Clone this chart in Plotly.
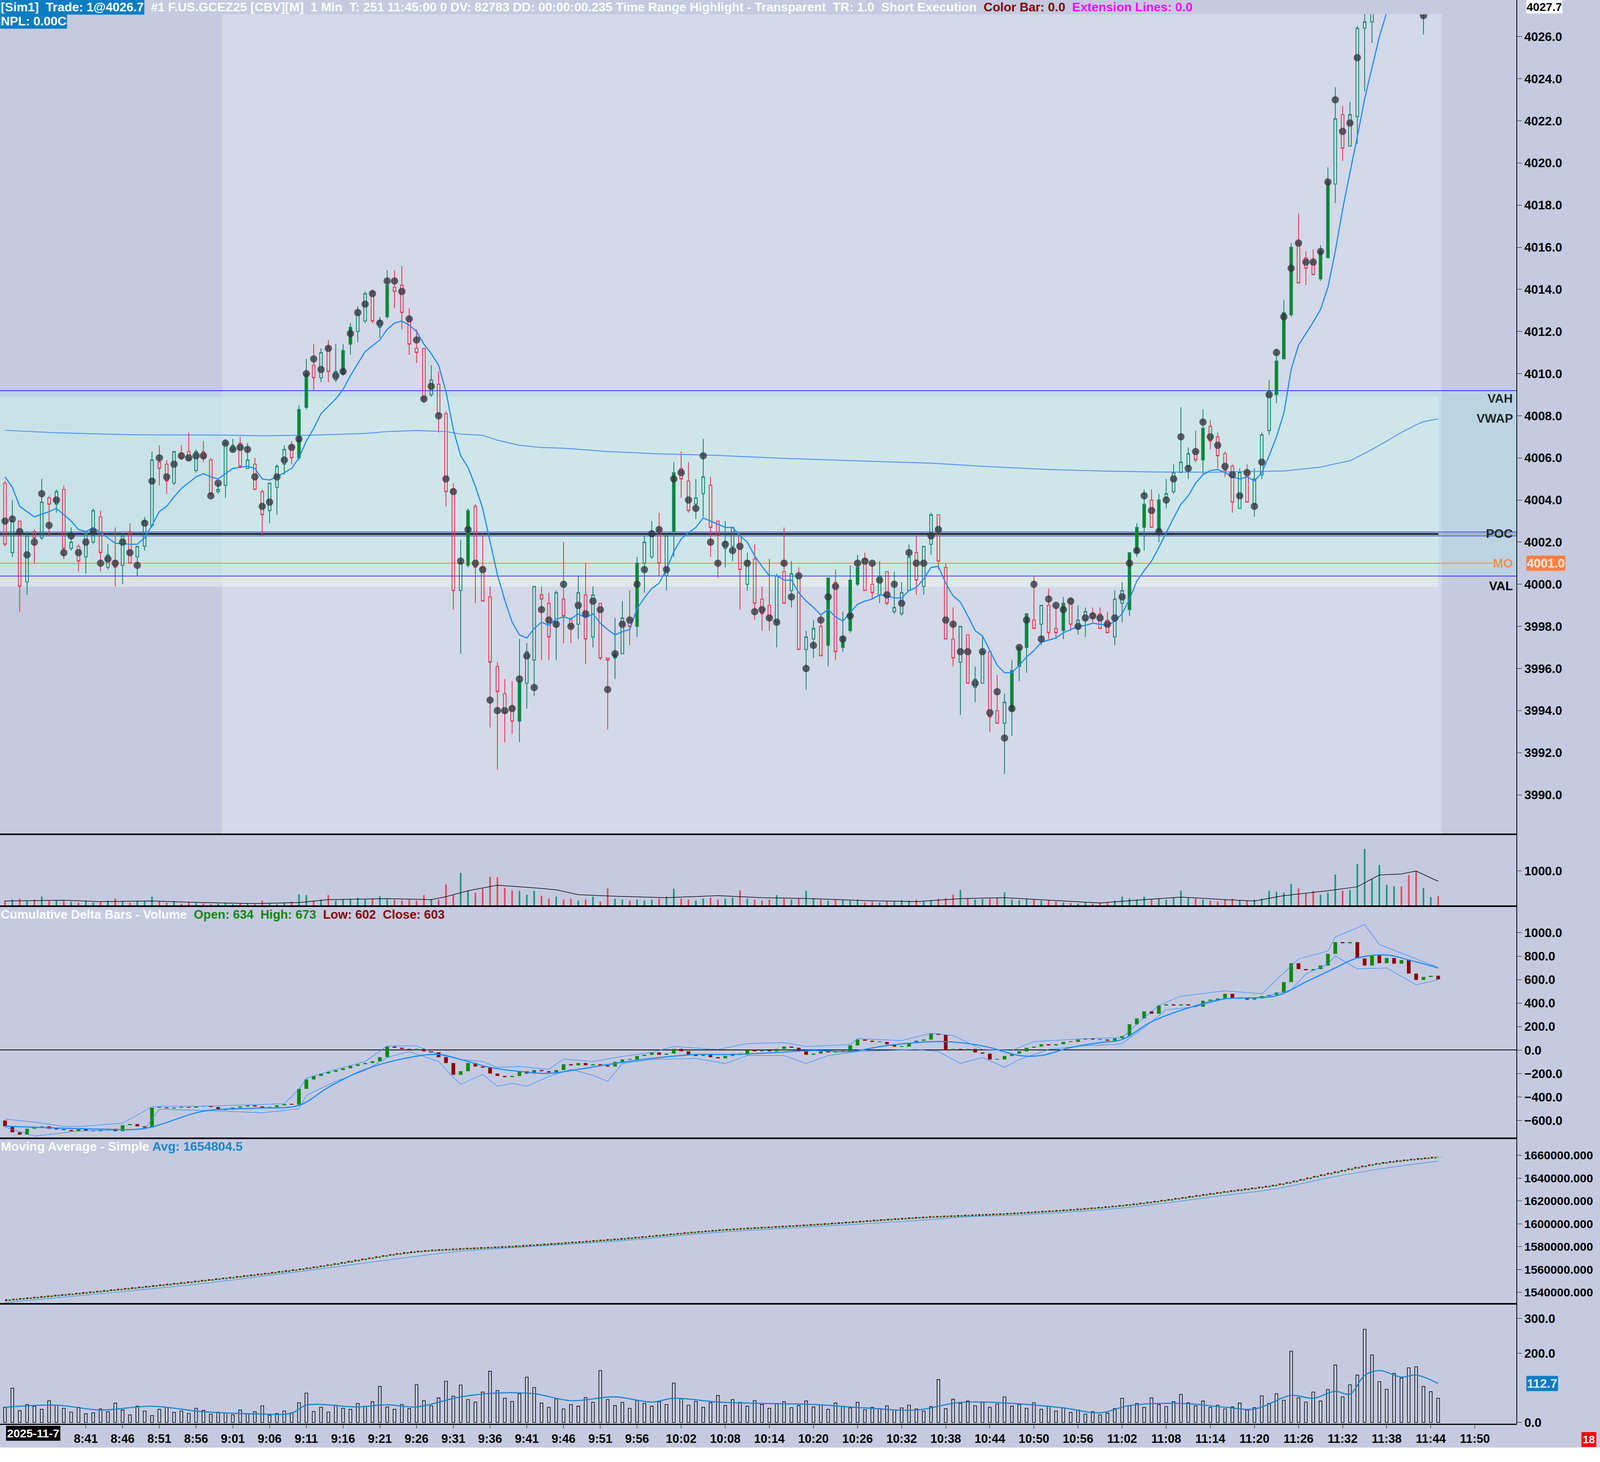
import plotly.graph_objects as go
from plotly.subplots import make_subplots

# 1 min bars from 8:30 to 11:45, x = bar index (0 = 8:30)
opens = [
    4004.8, 4001.5, 4003.0, 4000.1, 4002.5, 4002.2, 4004.1, 4003.8, 4004.5, 4001.7,
    4001.8, 4001.3, 4002.0, 4003.2, 4000.8, 4001.1, 4000.9, 4002.5, 4001.3, 4001.8,
    4002.8, 4005.8, 4005.7, 4004.8, 4006.2, 4006.3, 4005.4, 4006.3, 4005.9, 4004.4,
    4004.7, 4006.4, 4006.7, 4005.5, 4005.7, 4004.4, 4003.5, 4004.6, 4005.7, 4006.6,
    4006.0, 4008.4, 4010.4, 4009.8, 4011.2, 4009.7, 4010.0, 4011.4, 4012.0, 4012.5,
    4013.9, 4012.2, 4012.7, 4014.1, 4014.2, 4012.6, 4011.2, 4011.2, 4009.0, 4009.5,
    4008.1, 4004.5, 3999.7, 4000.9, 4003.7, 4000.8, 3999.4, 3996.1, 3994.8, 3994.2,
    3993.5, 3995.3, 3996.4, 3999.5, 3999.1, 3998.0, 3999.3, 3998.3, 3998.1, 3999.5,
    3997.5, 3999.1, 3996.5, 3996.5, 3996.7, 3998.3, 3998.0, 4001.0, 4001.3, 4002.6,
    4000.4, 4002.5, 4005.5, 4004.9, 4003.8, 4004.3, 4004.7, 4003.0, 4001.7, 4001.8,
    4002.3, 4000.0, 4001.2, 3999.3, 3999.0, 3998.2, 4000.6, 3999.7, 4000.4, 3996.9,
    3997.4, 3998.0, 3997.1, 4000.1, 3997.0, 3997.8, 4000.0, 4001.2, 4000.0, 3999.5,
    4000.6, 3998.7, 3998.6, 3999.7, 4001.5, 3999.9, 4001.9, 4003.3, 4000.8, 3997.4,
    3996.3, 3997.6, 3995.1, 3995.3, 3996.8, 3994.0, 3993.4, 3994.0, 3996.1, 3997.0,
    3998.3, 3998.1, 3999.0, 3997.9, 3997.8, 3999.3, 3997.9, 3998.3, 3998.6, 3998.6,
    3998.3, 3997.5, 3999.1, 3998.8, 4001.5, 4002.7, 4004.0, 4002.5, 4004.1, 4004.4,
    4005.3, 4005.6, 4006.3, 4005.9, 4007.5, 4007.0, 4006.2, 4005.6, 4003.6, 4005.3,
    4003.8, 4005.2, 4007.3, 4009.0, 4010.7, 4012.8, 4016.2, 4015.5, 4015.3, 4014.5,
    4015.5, 4019.0, 4022.3, 4020.8, 4022.2, 4026.4, 4026.7, 4028.2, 4029.4, 4030.0,
    4031.0, 4030.0, 4029.2, 4028.3, 4028.9, 4029.2,
]
highs = [
    4004.9, 4004.0, 4003.0, 4002.5, 4002.6, 4005.0, 4004.2, 4004.5, 4004.7, 4002.7,
    4001.9, 4002.5, 4003.6, 4003.5, 4001.9, 4002.7, 4002.4, 4002.9, 4001.8, 4003.2,
    4006.3, 4006.6, 4005.9, 4006.3, 4006.6, 4007.2, 4006.4, 4006.8, 4006.0, 4004.8,
    4006.9, 4006.9, 4007.0, 4006.7, 4006.0, 4004.5, 4004.8, 4005.7, 4006.6, 4006.8,
    4008.5, 4010.7, 4011.4, 4011.2, 4011.6, 4011.4, 4011.4, 4012.4, 4013.2, 4013.9,
    4014.0, 4012.7, 4014.9, 4014.9, 4015.1, 4013.1, 4012.1, 4011.2, 4010.4, 4010.1,
    4008.2, 4004.8, 4002.1, 4003.6, 4003.8, 4002.4, 3999.9, 3996.3, 3995.5, 3995.4,
    3997.4, 3997.2, 3999.9, 3999.9, 3999.6, 3999.7, 4002.0, 3998.4, 4000.4, 4001.0,
    3999.9, 3999.1, 3996.5, 3998.4, 3999.2, 3999.7, 4001.3, 4002.3, 4003.0, 4003.4,
    4002.4, 4005.8, 4006.3, 4005.8, 4005.0, 4006.9, 4005.1, 4003.0, 4003.0, 4002.7,
    4002.4, 4001.5, 4001.9, 3999.9, 4001.2, 4000.5, 4002.7, 4001.1, 4000.8, 3997.8,
    3998.3, 3998.6, 4000.3, 4000.7, 3998.7, 4000.9, 4001.4, 4001.5, 4001.0, 4001.1,
    4000.6, 4000.6, 4000.1, 4001.9, 4002.3, 4001.8, 4003.4, 4003.3, 4001.0, 3998.9,
    3998.0, 3997.6, 3996.1, 3997.5, 3996.8, 3995.7, 3994.8, 3996.4, 3997.1, 3998.6,
    4000.4, 3999.0, 3999.8, 3999.0, 3999.4, 3999.4, 3999.0, 3998.9, 3998.9, 3998.9,
    3998.7, 3999.7, 4000.1, 4001.5, 4002.9, 4004.5, 4004.5, 4004.3, 4005.0, 4005.7,
    4008.4, 4006.5, 4007.3, 4008.3, 4007.8, 4007.2, 4006.3, 4005.7, 4005.5, 4005.7,
    4005.5, 4007.2, 4009.7, 4011.2, 4013.5, 4016.2, 4017.6, 4015.8, 4015.9, 4016.1,
    4019.8, 4023.6, 4022.7, 4022.9, 4026.5, 4027.5, 4028.6, 4029.8, 4031.0, 4031.5,
    4031.4, 4030.6, 4029.6, 4029.4, 4029.6, 4029.4,
]
lows = [
    4001.8, 4001.3, 3998.7, 3999.5, 4001.0, 4002.1, 4002.3, 4003.4, 4001.2, 4001.6,
    4000.6, 4000.5, 4001.9, 4000.6, 4000.7, 3999.9, 4000.0, 4001.0, 4000.4, 4001.6,
    4002.7, 4004.7, 4004.3, 4004.7, 4005.9, 4005.9, 4005.3, 4005.8, 4004.2, 4004.3,
    4004.1, 4006.3, 4005.5, 4005.5, 4004.5, 4002.3, 4002.9, 4003.3, 4005.2, 4005.7,
    4005.9, 4008.3, 4009.2, 4009.6, 4009.6, 4009.6, 4009.9, 4010.9, 4011.5, 4012.4,
    4012.4, 4011.7, 4012.6, 4013.1, 4012.1, 4010.9, 4010.5, 4008.6, 4008.9, 4007.2,
    4003.7, 3998.8, 3996.7, 4000.8, 3999.1, 3999.2, 3993.2, 3991.2, 3992.5, 3992.9,
    3992.5, 3994.1, 3994.7, 3996.4, 3996.4, 3996.4, 3997.2, 3997.2, 3997.4, 3996.2,
    3997.0, 3996.4, 3993.1, 3995.5, 3996.7, 3997.1, 3997.5, 3999.6, 4001.2, 4000.4,
    3999.7, 4001.3, 4004.1, 4003.4, 4003.1, 4003.2, 4001.3, 4000.3, 4000.8, 4001.1,
    3998.8, 3999.7, 3998.3, 3997.8, 3997.8, 3997.0, 3999.1, 3998.9, 3996.9, 3995.0,
    3996.5, 3996.6, 3996.1, 3996.4, 3996.8, 3997.7, 3999.9, 3999.7, 3999.3, 3999.1,
    3999.0, 3998.6, 3998.5, 3999.7, 3999.5, 3999.5, 4001.4, 4000.7, 3997.4, 3996.1,
    3993.8, 3995.3, 3994.4, 3995.3, 3993.0, 3993.4, 3991.0, 3992.8, 3995.4, 3995.8,
    3997.9, 3997.1, 3997.4, 3997.4, 3997.4, 3997.8, 3997.6, 3997.5, 3998.2, 3997.9,
    3997.7, 3997.1, 3998.2, 3998.5, 4001.3, 4001.6, 4002.7, 4002.0, 4003.6, 4004.3,
    4005.3, 4005.0, 4005.8, 4005.2, 4006.4, 4005.5, 4005.1, 4003.4, 4003.6, 4003.9,
    4003.2, 4005.0, 4007.1, 4008.6, 4010.7, 4012.7, 4014.3, 4014.2, 4014.7, 4014.4,
    4015.5, 4018.1, 4020.1, 4020.8, 4020.9, 4023.4, 4025.7, 4027.6, 4028.5, 4029.3,
    4029.6, 4028.9, 4027.8, 4026.1, 4028.1, 4027.3,
]
closes = [
    4001.9, 4003.0, 3999.9, 4002.3, 4002.2, 4003.9, 4003.8, 4004.4, 4001.7, 4002.0,
    4001.1, 4002.4, 4003.5, 4001.5, 4001.4, 4000.8, 4002.3, 4001.0, 4001.8, 4003.0,
    4005.9, 4005.5, 4004.9, 4006.3, 4006.0, 4005.9, 4006.3, 4006.0, 4004.3, 4004.5,
    4006.7, 4006.6, 4005.6, 4005.9, 4004.5, 4003.3, 4004.8, 4005.6, 4006.4, 4006.0,
    4008.3, 4010.0, 4009.8, 4011.0, 4010.1, 4010.1, 4011.1, 4012.2, 4012.8, 4013.8,
    4012.5, 4012.5, 4014.2, 4013.9, 4012.9, 4011.4, 4011.0, 4008.8, 4009.7, 4008.1,
    4004.4, 3999.7, 4001.0, 4003.5, 4000.8, 3999.2, 3996.3, 3994.9, 3993.9, 3993.5,
    3995.4, 3996.8, 3999.9, 3999.3, 3997.5, 3999.6, 3998.5, 3998.0, 3999.6, 3997.4,
    3999.5, 3996.5, 3996.4, 3996.7, 3998.4, 3998.0, 4001.0, 4002.0, 4002.3, 4001.0,
    4002.3, 4005.3, 4005.0, 4003.5, 4004.1, 4005.1, 4002.7, 4002.3, 4002.0, 4002.7,
    4000.7, 4001.1, 3999.1, 3998.6, 3998.4, 4000.4, 3999.1, 4000.5, 3996.9, 3997.5,
    3997.9, 3996.6, 4000.3, 3996.8, 3997.5, 4000.2, 4000.8, 3999.7, 3999.6, 4000.4,
    3999.1, 3998.9, 3999.6, 4001.3, 4000.2, 4001.8, 4003.3, 4001.1, 3997.4, 3996.5,
    3998.0, 3995.3, 3995.5, 3996.8, 3993.7, 3993.4, 3994.4, 3995.9, 3997.0, 3998.6,
    3997.9, 3999.0, 3997.7, 3997.7, 3999.1, 3998.1, 3998.3, 3998.7, 3998.4, 3997.9,
    3997.7, 3999.3, 3999.7, 4001.5, 4002.7, 4003.8, 4002.7, 4004.0, 4004.3, 4005.3,
    4005.8, 4006.2, 4005.9, 4007.4, 4006.8, 4006.1, 4005.4, 4003.9, 4005.3, 4003.9,
    4005.0, 4007.1, 4009.2, 4010.6, 4012.9, 4016.0, 4014.3, 4015.0, 4014.7, 4015.8,
    4019.1, 4022.1, 4020.7, 4022.3, 4026.4, 4026.7, 4028.2, 4029.4, 4030.6, 4031.0,
    4030.0, 4029.2, 4028.3, 4028.9, 4029.2, 4027.7,
]
# point of control of each bar (grey dots)
bar_poc = [
    4003.0, 4003.1, 4002.5, 4001.4, 4002.0, 4004.3, 4002.8, 4004.0, 4001.5, 4002.3,
    4001.5, 4002.0, 4002.5, 4001.0, 4001.2, 4001.0, 4002.0, 4001.5, 4000.9, 4002.9,
    4004.9, 4006.0, 4005.1, 4005.7, 4006.1, 4006.0, 4006.1, 4006.1, 4004.2, 4004.8,
    4006.7, 4006.4, 4006.5, 4006.4, 4005.1, 4003.7, 4003.9, 4005.1, 4005.9, 4006.5,
    4006.9, 4010.0, 4010.7, 4010.2, 4011.2, 4009.9, 4010.1, 4011.9, 4012.9, 4013.3,
    4013.8, 4012.4, 4014.4, 4014.4, 4013.9, 4012.6, 4011.6, 4008.8, 4009.4, 4008.0,
    4005.0, 4004.4, 4001.1, 4002.6, 4001.0, 4000.7, 3994.5, 3994.0, 3994.0, 3994.1,
    3995.5, 3996.6, 3995.1, 3998.8, 3998.3, 3998.1, 4000.0, 3998.0, 3999.0, 3998.6,
    3999.2, 3998.8, 3995.0, 3996.7, 3998.1, 3998.3, 4000.0, 4000.7, 4002.4, 4002.6,
    4000.7, 4005.0, 4005.3, 4004.0, 4003.6, 4006.1, 4002.0, 4001.0, 4001.9, 4001.6,
    4001.8, 4001.0, 3998.7, 3998.8, 3998.4, 3998.2, 4001.0, 3999.4, 4000.4, 3996.0,
    3997.1, 3998.3, 3999.4, 3999.9, 3997.4, 3998.5, 4001.0, 4001.1, 4001.0, 4000.2,
    3999.5, 4000.0, 3999.1, 4001.5, 4001.0, 4001.0, 4002.3, 4002.6, 3998.3, 3998.1,
    3996.8, 3996.8, 3995.3, 3996.8, 3993.9, 3994.9, 3992.7, 3994.1, 3997.0, 3998.3,
    4000.0, 3997.4, 3999.3, 3999.0, 3998.8, 3999.2, 3998.0, 3998.4, 3998.5, 3998.4,
    3998.1, 3998.4, 3999.4, 4001.0, 4001.6, 4004.2, 4003.5, 4002.5, 4004.0, 4005.0,
    4007.0, 4005.5, 4006.3, 4007.7, 4007.0, 4006.6, 4005.6, 4005.2, 4004.2, 4005.3,
    4003.7, 4005.8, 4009.0, 4011.0, 4012.7, 4015.0, 4016.2, 4015.3, 4015.3, 4015.8,
    4019.1, 4023.0, 4021.5, 4021.9, 4025.0, 4027.5, 4028.0, 4029.0, 4030.0, 4030.5,
    4030.4, 4029.8, 4029.0, 4027.0, 4028.6, 4027.9,
]
# bars drawn with a solid green body
solid_bars = [40, 41, 46, 47, 52, 63, 70, 83, 86, 91, 112, 114, 115, 116, 137, 138,
              139, 144, 153, 154, 155, 157, 163, 173, 174, 175, 179, 180]

# fast moving average of price (sampled)
ma_bar = [0, 1, 2, 4, 6, 7, 8, 9, 10, 11, 12, 13, 15, 17, 18, 19, 20, 21, 22, 23, 24,
          26, 27, 28, 29, 30, 31, 33, 34, 35, 36, 37, 39, 40, 41, 42, 43, 45, 46, 47, 49,
          51, 52, 53, 54, 55, 56, 57, 58, 59, 60, 61, 62, 63, 64, 65, 66, 67, 68, 69, 70,
          71, 72, 73, 74, 75, 76, 77, 78, 79, 80, 81, 82, 83, 84, 85, 86, 87, 88, 89, 90,
          91, 92, 93, 94, 95, 96, 97, 98, 99, 100, 101, 102, 103, 104, 105, 106, 107, 108,
          109, 110, 111, 112, 113, 114, 115, 116, 117, 118, 119, 120, 121, 122, 123, 124,
          125, 126, 127, 128, 129, 130, 131, 132, 133, 134, 135, 136, 137, 138, 139, 140,
          141, 142, 143, 144, 145, 146, 147, 148, 149, 150, 151, 152, 153, 154, 155, 156,
          157, 158, 159, 160, 161, 162, 163, 164, 165, 166, 167, 168, 169, 170, 171, 172,
          173, 174, 175, 176, 177, 178, 179, 180, 181, 182, 183, 184, 185, 186, 187, 188,
          189, 190, 191, 192, 193, 194, 195]
ma_val = [4005.1, 4004.6, 4003.7, 4003.2, 4003.45, 4003.6, 4003.3, 4003.0, 4002.6, 4002.5,
          4002.7, 4002.45, 4001.95, 4001.9, 4001.9, 4002.2, 4002.8, 4003.45, 4003.7, 4004.15,
          4004.55, 4005.1, 4005.25, 4005.1, 4005.0, 4005.25, 4005.5, 4005.6, 4005.5, 4005.0,
          4004.95, 4005.1, 4005.5, 4006.0, 4006.8, 4007.4, 4008.1, 4008.8, 4009.25, 4009.9,
          4011.05, 4011.6, 4012.1, 4012.4, 4012.5, 4012.3, 4012.0, 4011.4, 4010.95, 4010.4,
          4009.15, 4007.35, 4006.1, 4005.55, 4004.65, 4003.6, 4002.0, 4000.45, 3999.25, 3998.2,
          3997.6, 3997.45, 3997.9, 3998.2, 3998.05, 3998.35, 3998.45, 3998.35, 3998.6, 3998.4,
          3998.6, 3998.15, 3997.85, 3997.6, 3997.75, 3997.85, 3998.85, 3999.35, 3999.8, 4000.05,
          4000.7, 4001.55, 4002.15, 4002.45, 4002.7, 4003.15, 4003.0, 4002.85, 4002.7, 4002.7,
          4002.3, 4002.0, 4001.35, 4000.85, 4000.4, 4000.4, 4000.2, 4000.2, 3999.6, 3999.2,
          3998.9, 3998.55, 3998.8, 3998.45, 3998.25, 3998.65, 3999.05, 3999.2, 3999.3, 3999.5,
          3999.45, 3999.35, 3999.35, 3999.7, 3999.85, 4000.25, 4000.8, 4000.85, 4000.05, 3999.45,
          3999.15, 3998.5, 3997.8, 3997.55, 3996.85, 3996.15, 3995.8, 3995.8, 3996.15, 3996.55,
          3996.85, 3997.25, 3997.35, 3997.45, 3997.7, 3997.85, 3998.0, 3998.05, 3998.15, 3998.1,
          3998.05, 3998.25, 3998.6, 3999.3, 4000.15, 4000.65, 4001.1, 4001.75, 4002.45, 4003.15,
          4003.8, 4004.2, 4004.8, 4005.2, 4005.4, 4005.45, 4005.3, 4005.1, 4005.0, 4005.1,
          4004.9, 4005.3, 4006.1, 4007.0, 4008.1, 4010.2, 4011.35, 4011.9, 4012.45, 4013.05,
          4014.1, 4015.8, 4017.8, 4019.55, 4021.25, 4023.05, 4024.55, 4026.0, 4027.15, 4028.1,
          4028.8, 4029.3, 4029.5, 4029.6, 4029.6, 4029.5]

vwap_bar = [0, 7, 17, 30, 35, 42, 49, 52, 56, 60, 62, 65, 67, 70, 73, 76, 82, 89, 96, 100,
            105, 115, 126, 133, 142, 150, 157, 164, 174, 179, 181, 183, 185, 186, 188, 190,
            192, 193, 195]
vwap_val = [4007.31, 4007.19, 4007.10, 4007.08, 4007.05, 4007.08, 4007.16, 4007.25, 4007.30,
            4007.25, 4007.13, 4007.07, 4006.84, 4006.60, 4006.49, 4006.46, 4006.30, 4006.19,
            4006.13, 4006.07, 4005.99, 4005.87, 4005.75, 4005.60, 4005.45, 4005.37, 4005.33,
            4005.32, 4005.38, 4005.56, 4005.72, 4005.86, 4006.21, 4006.40, 4006.80, 4007.21,
            4007.57, 4007.72, 4007.85]

# profile levels
vah = 4009.19
val = 4000.39
poc = 4002.39
mo_level = 4001.0
va_top = 4008.9
va_bottom = 3999.88
last_price = 4027.7

volume = [
    153, 181, 209, 141, 181, 266, 153, 164, 141, 124, 96, 153, 96, 124, 153, 209, 124, 96, 141, 141,
    266, 124, 96, 141, 68, 96, 85, 68, 51, 68, 85, 51, 68, 85, 51, 153, 68, 51, 85, 124,
    333, 311, 153, 181, 311, 153, 181, 198, 237, 181, 209, 277, 181, 181, 153, 181, 153, 311, 181, 181,
    616, 311, 943, 435, 379, 492, 830, 820, 520, 435, 435, 322, 435, 294, 209, 266, 181, 209, 153, 181,
    266, 124, 503, 209, 181, 153, 181, 153, 181, 209, 266, 492, 209, 181, 153, 209, 237, 181, 209, 237,
    446, 209, 181, 153, 181, 311, 209, 181, 209, 435, 209, 181, 153, 181, 164, 153, 181, 96, 124, 96,
    141, 124, 164, 153, 181, 124, 153, 209, 220, 322, 458, 209, 181, 198, 209, 237, 390, 181, 164, 209,
    181, 153, 164, 124, 96, 85, 68, 96, 68, 85, 96, 153, 266, 209, 181, 266, 181, 209, 181, 237,
    435, 237, 209, 181, 153, 124, 181, 209, 153, 153, 181, 209, 435, 407, 379, 633, 503, 350, 435, 322,
    379, 900, 435, 463, 1200, 1633, 774, 1170, 604, 562, 562, 887, 994, 512, 250, 281,
]
vol_ma_bar = [0, 8, 13, 20, 27, 34, 40, 44, 52, 58, 60, 63, 67, 72, 75, 78, 83, 90, 97, 103,
              110, 117, 124, 130, 136, 141, 149, 155, 160, 166, 170, 174, 180, 184, 187, 190,
              192, 195]
vol_ma_val = [141, 164, 124, 141, 96, 68, 96, 181, 209, 181, 265, 435, 593, 520, 463, 322, 277,
              237, 294, 237, 209, 153, 124, 209, 237, 181, 85, 181, 254, 181, 141, 294, 435, 548,
              887, 915, 1000, 706]

cd_open_first = -600
cd_close = [
    -650, -700, -720, -670, -660, -650, -670, -675, -680, -690,
    -670, -685, -690, -680, -670, -690, -640, -630, -650, -660,
    -490, -490, -495, -490, -485, -490, -480, -475, -485, -510,
    -505, -490, -480, -470, -480, -490, -485, -470, -460, -465,
    -330, -250, -220, -200, -185, -170, -155, -135, -120, -110,
    -95, -60, 30, 20, 10, 0, 10, -10, -20, -60,
    -110, -210, -180, -110, -140, -150, -200, -220, -230, -220,
    -180, -200, -170, -180, -190, -170, -120, -130, -110, -130,
    -120, -130, -140, -100, -80, -80, -50, -40, -20, -40,
    -30, 10, -10, -40, -50, -40, -60, -70, -50, -30,
    -40, 0, -10, 0, -10, 10, 30, 20, -10, -40,
    -30, -10, -20, -10, -10, 40, 90, 80, 70, 70,
    50, 30, 30, 60, 80, 90, 140, 130, 0, 10,
    0, 10, -20, -30, -80, -80, -50, -30, -10, 20,
    30, 50, 40, 50, 70, 70, 90, 100, 90, 90,
    80, 100, 120, 220, 270, 330, 310, 380, 390, 380,
    390, 380, 370, 420, 430, 440, 480, 440, 440, 430,
    440, 460, 470, 490, 580, 740, 690, 680, 690, 720,
    820, 920, 910, 920, 780, 720, 810, 740, 784, 736,
    767, 652, 598, 623, 634, 603,
]
cd_ma_bar = [0, 13, 19, 27, 34, 40, 44, 49, 55, 59, 62, 66, 70, 74, 78, 83, 88, 94, 99, 105,
             110, 115, 120, 127, 131, 134, 138, 141, 145, 149, 152, 156, 162, 166, 173, 177,
             181, 184, 188, 191, 195]
cd_ma_val = [-647, -673, -667, -520, -495, -470, -317, -164, -63, -37, -80, -147, -181, -198,
             -164, -113, -71, -37, -37, -20, -3, -12, 39, 73, 56, 22, -46, -46, 22, 64, 90, 242,
             378, 437, 463, 581, 700, 785, 810, 768, 700]
# envelope around the cumulative delta bars
cd_upper_bar = [0, 4, 8, 10, 16, 20, 22, 27, 33, 38, 40, 41, 45, 49, 52, 56, 59, 62, 65, 67,
                70, 74, 76, 80, 84, 88, 91, 97, 101, 106, 109, 115, 116, 122, 126, 129, 133,
                137, 140, 147, 152, 155, 157, 160, 166, 171, 176, 180, 181, 185, 187, 191, 195]
cd_upper_val = [-588, -613, -650, -652, -622, -483, -478, -478, -466, -456, -334, -240, -164,
                -97, 36, 36, -37, -80, -97, -147, -139, -164, -76, -97, -54, -20, 31, 5, 56, 64,
                31, 47, 98, 81, 144, 124, 5, -3, 73, 98, 107, 276, 381, 459, 505, 480, 776, 844,
                963, 1069, 900, 801, 703]
cd_lower_bar = [0, 4, 10, 19, 21, 30, 35, 40, 41, 45, 49, 52, 55, 59, 61, 62, 65, 67, 69, 71,
                74, 77, 80, 82, 84, 88, 94, 98, 101, 106, 109, 112, 116, 120, 124, 127, 130,
                133, 136, 138, 142, 147, 151, 152, 155, 158, 162, 166, 171, 175, 177, 180, 181,
                184, 188, 192, 195]
cd_lower_val = [-656, -732, -690, -673, -503, -520, -534, -500, -385, -266, -173, -63, -12, -97,
                -232, -292, -207, -308, -283, -308, -224, -164, -215, -266, -114, -80, -71, -114,
                -46, -46, -114, -46, -12, -3, 5, -12, -114, -63, -147, -80, 5, 39, 47, 56, 192,
                344, 370, 437, 449, 514, 649, 734, 802, 692, 700, 556, 598]

sma_bar = [0, 13, 27, 41, 55, 62, 69, 83, 97, 110, 124, 131, 138, 152, 166, 173, 180, 187, 195]
sma_fast = [1533070, 1540950, 1550300, 1561000, 1575000, 1578000, 1580200, 1586400, 1594300,
            1599200, 1605300, 1607300, 1609400, 1616000, 1628000, 1634100, 1643900, 1652900,
            1658400]
sma_slow = [1531100, 1538820, 1547850, 1559000, 1570840, 1576100, 1579050, 1584800, 1592500,
            1597440, 1602860, 1606140, 1607780, 1613860, 1625030, 1630780, 1640130, 1648000,
            1654900]

trades = [
    44, 99, 34, 52, 47, 38, 63, 50, 41, 30, 44, 25, 28, 39, 31, 56, 36, 22, 47, 33,
    20, 38, 44, 29, 33, 26, 41, 35, 24, 30, 27, 22, 36, 25, 31, 48, 21, 26, 33, 28,
    57, 85, 32, 44, 30, 50, 41, 38, 55, 47, 60, 104, 45, 38, 52, 40, 109, 63, 48, 71,
    119, 76, 108, 66, 59, 88, 148, 92, 70, 61, 83, 131, 101, 56, 44, 68, 39, 52, 47, 72,
    58, 150, 66, 49, 58, 41, 63, 55, 47, 60, 52, 114, 68, 50, 61, 44, 57, 78, 49, 66,
    58, 47, 63, 52, 41, 55, 60, 43, 49, 62, 45, 51, 38, 56, 47, 42, 58, 37, 44, 40,
    48, 36, 42, 50, 39, 33, 46, 124, 40, 67, 55, 62, 48, 58, 44, 53, 74, 47, 52, 41,
    57, 38, 46, 33, 42, 29, 36, 24, 31, 22, 27, 40, 70, 48, 55, 44, 71, 52, 46, 60,
    81, 57, 48, 62, 44, 50, 39, 45, 56, 36, 43, 77, 55, 83, 64, 206, 71, 59, 88, 62,
    95, 166, 74, 109, 137, 269, 195, 118, 96, 142, 128, 158, 161, 104, 89, 70,
]
trades_ma_bar = [0, 7, 13, 20, 27, 34, 39, 41, 48, 52, 56, 62, 67, 72, 77, 83, 88, 91, 97,
                 103, 110, 117, 124, 130, 137, 144, 149, 153, 160, 166, 170, 175, 178, 181,
                 183, 185, 187, 190, 192, 195]
trades_ma_val = [44, 50, 36, 47, 31, 25, 27, 50, 45, 51, 45, 74, 85, 83, 63, 74, 59, 70, 59,
                 55, 52, 42, 36, 58, 55, 42, 28, 49, 55, 44, 39, 78, 70, 90, 82, 136, 150, 131,
                 137, 112.7]

time_labels = ["8:41", "8:46", "8:51", "8:56", "9:01", "9:06", "9:11", "9:16", "9:21", "9:26",
               "9:31", "9:36", "9:41", "9:46", "9:51", "9:56", "10:02", "10:08", "10:14",
               "10:20", "10:26", "10:32", "10:38", "10:44", "10:50", "10:56", "11:02", "11:08",
               "11:14", "11:20", "11:26", "11:32", "11:38", "11:44", "11:50"]

FONT = "Liberation Sans"
BG = "#c5cae0"
HILITE = "#d3d9e9"
UP = "#13876c"
DOWN = "#e8384e"
SOLID = "#0e8a1a"

# the page is photographed a little smaller than the window, so the whole
# figure is laid out in reference pixels and shrunk by S
S = 4096.0 / 4137.0
REF_W, REF_H = 4137.0, 3743.0
PLOT_W = 3922.0
PLOT_H = 3681.0


def k(v):
    return v * S


def py(row):
    return (PLOT_H - row) / PLOT_H


def px(col):
    return col / PLOT_W


def bar_of(label):
    h, m = label.split(":")
    return int(h) * 60 + int(m) - (8 * 60 + 30)


n = len(closes)
bars = list(range(n))
x_lo, x_hi = -0.68, 205.7
last_edge = 195.05

fig = make_subplots(rows=5, cols=1, shared_xaxes=True, vertical_spacing=0)

# ---- price panel ----
fig.add_trace(go.Scatter(x=vwap_bar, y=vwap_val, mode="lines",
                         line=dict(color="#5796ee", width=k(2.5))), row=1, col=1)
fig.add_trace(go.Scatter(x=ma_bar, y=ma_val, mode="lines",
                         line=dict(color="#1e8cff", width=k(3))), row=1, col=1)

hollow = [i for i in bars if i not in solid_bars]
fig.add_trace(go.Candlestick(
    x=hollow, open=[opens[i] for i in hollow], high=[highs[i] for i in hollow],
    low=[lows[i] for i in hollow], close=[closes[i] for i in hollow],
    increasing=dict(line=dict(color=UP, width=k(2.2)), fillcolor="rgba(0,0,0,0)"),
    decreasing=dict(line=dict(color=DOWN, width=k(2.2)), fillcolor="rgba(0,0,0,0)"),
    whiskerwidth=0), row=1, col=1)
fig.add_trace(go.Candlestick(
    x=solid_bars, open=[opens[i] for i in solid_bars], high=[highs[i] for i in solid_bars],
    low=[lows[i] for i in solid_bars], close=[closes[i] for i in solid_bars],
    increasing=dict(line=dict(color=UP, width=k(2.2)), fillcolor=SOLID),
    decreasing=dict(line=dict(color=DOWN, width=k(2.2)), fillcolor=SOLID),
    whiskerwidth=0), row=1, col=1)
fig.add_trace(go.Scatter(x=bars, y=bar_poc, mode="markers",
                         marker=dict(size=k(19), color="rgba(45,50,58,0.75)")), row=1, col=1)

# ---- volume ----
vol_colors = ["#139a7c" if c >= o else "#e8475a" for o, c in zip(opens, closes)]
fig.add_trace(go.Bar(x=bars, y=volume, width=0.22, marker=dict(color=vol_colors, line=dict(width=0))),
              row=2, col=1)
fig.add_trace(go.Scatter(x=vol_ma_bar, y=vol_ma_val, mode="lines",
                         line=dict(color="black", width=k(1.5))), row=2, col=1)

# ---- cumulative delta ----
cd_open = [cd_open_first] + cd_close[:-1]
cd_colors = ["#0b8a0b" if c >= o else "#8b0000" for o, c in zip(cd_open, cd_close)]
fig.add_trace(go.Scatter(x=cd_upper_bar, y=cd_upper_val, mode="lines",
                         line=dict(color="#2a8cff", width=k(1.3))), row=3, col=1)
fig.add_trace(go.Scatter(x=cd_lower_bar, y=cd_lower_val, mode="lines",
                         line=dict(color="#2a8cff", width=k(1.3))), row=3, col=1)
fig.add_trace(go.Bar(x=bars, y=[c - o if c != o else 4 for o, c in zip(cd_open, cd_close)],
                     base=cd_open, width=0.5,
                     marker=dict(color=cd_colors, line=dict(width=0))), row=3, col=1)
fig.add_trace(go.Scatter(x=cd_ma_bar, y=cd_ma_val, mode="lines", line_shape="spline",
                         line=dict(color="#1e8cff", width=k(3))), row=3, col=1)

# ---- moving average panel ----
fig.add_trace(go.Scatter(x=sma_bar, y=sma_slow, mode="lines", line_shape="spline",
                         line=dict(color="#3a98d8", width=k(1.5))), row=4, col=1)
fig.add_trace(go.Scatter(x=sma_bar, y=sma_fast, mode="lines", line_shape="spline",
                         line=dict(color="#8b0000", width=k(4), dash="6px,12px")), row=4, col=1)
fig.add_trace(go.Scatter(x=[b + 0.47 for b in sma_bar], y=sma_fast, mode="lines", line_shape="spline",
                         line=dict(color="#0b8a0b", width=k(4), dash="6px,12px")), row=4, col=1)

# ---- bottom histogram ----
fig.add_trace(go.Bar(x=bars, y=trades, width=0.38,
                     marker=dict(color="rgba(0,0,0,0)", line=dict(color="black", width=k(1.6)))),
              row=5, col=1)
fig.add_trace(go.Scatter(x=trades_ma_bar, y=trades_ma_val, mode="lines", line_shape="spline",
                         line=dict(color="#1a86cc", width=k(3))), row=5, col=1)

# ---- layout ----
domains = [
    [py(2157), py(37)],
    [py(2343), py(2159)],
    [py(2943), py(2345)],
    [py(3371), py(2946)],
    [0.0, py(3374)],
]
ranges = [
    [3988.13, 4027.06],
    [-8, 2030],
    [-751, 1219],
    [1529978, 1673883],
    [-3.6, 339.3],
]
tickvals = [
    [3990 + 2 * j for j in range(19)],
    [1000],
    [-600, -400, -200, 0, 200, 400, 600, 800, 1000],
    [1540000, 1560000, 1580000, 1600000, 1620000, 1640000, 1660000],
    [0, 200, 300],
]
tickfmt = [".1f", ".1f", ".1f", ".3f", ".1f"]
tsize = [32, 32, 32, 30.5, 32]
for r in range(5):
    name = "yaxis" if r == 0 else "yaxis%d" % (r + 1)
    fig.layout[name].update(
        domain=domains[r], range=ranges[r], side="right", tickvals=tickvals[r],
        tickformat=tickfmt[r], ticks="outside", ticklen=k(12), tickwidth=k(1.5), tickcolor="black",
        tickfont=dict(family=FONT, size=k(tsize[r]), color="black", weight="bold"),
        showgrid=False, zeroline=(r == 2), zerolinecolor="black",
        zerolinewidth=k(2.5), showline=False, fixedrange=True)

fig.update_xaxes(range=[x_lo, x_hi], showgrid=False, zeroline=False, rangeslider_visible=False,
                 showline=False, fixedrange=True)
fig.update_xaxes(tickvals=[bar_of(t) for t in time_labels], ticktext=time_labels,
                 ticks="outside", ticklen=k(9), tickcolor="black",
                 tickfont=dict(family=FONT, size=k(31), color="black", weight="bold"),
                 showline=True, linecolor="black", linewidth=k(3), row=5, col=1)

shapes = [
    dict(type="rect", xref="x", yref="y domain", x0=29.5, x1=195.5, y0=0, y1=1,
         fillcolor=HILITE, line=dict(width=0), layer="below"),
    dict(type="rect", xref="x", yref="y", x0=x_lo, x1=last_edge, y0=va_bottom, y1=va_top,
         fillcolor="rgba(240,248,240,0.5)", line=dict(width=0), layer="below"),
    dict(type="rect", xref="x", yref="y", x0=x_lo, x1=x_hi, y0=val, y1=vah,
         fillcolor="rgba(172,228,230,0.36)", line=dict(width=0), layer="below"),
    dict(type="line", xref="x", yref="y", x0=x_lo, x1=x_hi, y0=vah, y1=vah,
         line=dict(color="#0000ff", width=k(1.6)), layer="below"),
    dict(type="line", xref="x", yref="y", x0=x_lo, x1=x_hi, y0=val, y1=val,
         line=dict(color="#0000ff", width=k(1.6)), layer="below"),
    dict(type="rect", xref="x", yref="y", x0=x_lo, x1=x_hi, y0=poc - 0.1, y1=poc + 0.1,
         fillcolor="rgba(110,125,135,0.35)", line=dict(color="#1020ff", width=k(1.3)), layer="below"),
    dict(type="line", xref="x", yref="y", x0=x_lo, x1=last_edge, y0=poc, y1=poc,
         line=dict(color="#182424", width=k(4.5)), layer="below"),
    dict(type="line", xref="x", yref="y", x0=x_lo, x1=202.5, y0=mo_level, y1=mo_level,
         line=dict(color="#f0905a", width=k(2.5)), layer="below"),
]
# panel separators and right axis line
for row in [2157, 2343, 2943, 3371]:
    shapes.append(dict(type="line", xref="paper", yref="paper", x0=0, x1=1, y0=py(row), y1=py(row),
                       line=dict(color="black", width=k(4))))
shapes.append(dict(type="line", xref="paper", yref="paper", x0=1, x1=1, y0=0, y1=1.0,
                   line=dict(color="black", width=k(2))))

txt = dict(family=FONT, size=k(32.2), color="white", weight="bold")
lab = dict(family=FONT, size=k(32), color="#1c2a2a", weight="bold")
ann = [
    dict(xref="paper", yref="paper", x=0, y=py(18.5), xanchor="left", yanchor="middle",
         text="[Sim1]\u00a0\u00a0Trade: 1@4026.7", bgcolor="#0a7dc2", borderpad=1,
         font=txt, showarrow=False),
    dict(xref="paper", yref="paper", x=px(388), y=py(18.5), xanchor="left", yanchor="middle",
         text=("#1 F.US.GCEZ25 [CBV][M]\u00a0\u00a01 Min\u00a0\u00a0T: 251 11:45:00 0 DV: 82783 "
               "DD: 00:00:00.235 Time Range Highlight - Transparent\u00a0\u00a0TR: 1.0\u00a0\u00a0"
               "Short Execution\u00a0\u00a0<span style='color:#800000'>Color Bar: 0.0</span>"
               "\u00a0\u00a0<span style='color:#ff00ff'>Extension Lines: 0.0</span>"),
         font=txt, showarrow=False),
    dict(xref="paper", yref="paper", x=0, y=py(55), xanchor="left", yanchor="middle",
         text="NPL: 0.00C", bgcolor="#0a7dc2", borderpad=1, font=txt, showarrow=False),
    dict(xref="paper", yref="y", x=px(3914), y=4008.83, xanchor="right", yanchor="middle",
         text="VAH", font=lab, showarrow=False),
    dict(xref="paper", yref="y", x=px(3914), y=4007.87, xanchor="right", yanchor="middle",
         text="VWAP", font=lab, showarrow=False),
    dict(xref="paper", yref="y", x=px(3914), y=4002.4, xanchor="right", yanchor="middle",
         text="POC", font=lab, showarrow=False),
    dict(xref="paper", yref="y", x=px(3914), y=mo_level, xanchor="right", yanchor="middle",
         text="MO", font=dict(family=FONT, size=k(32), color="#f0905a", weight="bold"),
         showarrow=False),
    dict(xref="paper", yref="y", x=px(3914), y=3999.92, xanchor="right", yanchor="middle",
         text="VAL", font=dict(family=FONT, size=k(32), color="black", weight="bold"),
         showarrow=False),
    dict(xref="paper", yref="y", x=px(3946), y=mo_level, xanchor="left", yanchor="middle",
         text="%.1f" % mo_level, bgcolor="#ff8040", borderpad=1,
         font=dict(family=FONT, size=k(32), color="#f4ece4", weight="bold"), showarrow=False),
    dict(xref="paper", yref="paper", x=px(3946), y=1.0, xanchor="left", yanchor="top",
         text="%.1f" % last_price, bgcolor="white", borderpad=0,
         font=dict(family=FONT, size=k(30), color="black", weight="bold"), showarrow=False),
    dict(xref="paper", yref="y5", x=px(3946), y=trades_ma_val[-1], xanchor="left", yanchor="middle",
         text="%.1f" % trades_ma_val[-1], bgcolor="#0a7dc2", borderpad=1,
         font=dict(family=FONT, size=k(32), color="#d8ecfa", weight="bold"), showarrow=False),
    dict(xref="paper", yref="paper", x=0.0, y=py(2364), xanchor="left", yanchor="middle",
         text=("Cumulative Delta Bars - Volume\u00a0\u00a0<span style='color:#0b8a0b'>Open: 634"
               "\u00a0\u00a0High: 673</span>\u00a0\u00a0<span style='color:#8b0000'>Low: 602"
               "\u00a0\u00a0Close: 603</span>"),
         font=dict(family=FONT, size=k(32), color="white", weight="bold"), showarrow=False),
    dict(xref="paper", yref="paper", x=0.0, y=py(2964), xanchor="left", yanchor="middle",
         text="Moving Average - Simple <span style='color:#1a86cc'>Avg: 1654804.5</span>",
         font=dict(family=FONT, size=k(32.5), color="white", weight="bold"), showarrow=False),
    dict(xref="paper", yref="paper", x=px(86), y=py(3706), xanchor="center", yanchor="middle",
         text="2025-11-7", bgcolor="black", borderpad=2,
         font=dict(family=FONT, size=k(30), color="white", weight="bold"), showarrow=False),
    dict(xref="paper", yref="paper", x=px(4108), y=py(3722), xanchor="center", yanchor="middle",
         text="18", bgcolor="#ff0000", borderpad=3,
         font=dict(family=FONT, size=k(28), color="white", weight="bold"), showarrow=False),
]

fig.update_layout(
    width=round(REF_W * S), height=round(REF_H * S),
    margin=dict(l=0, r=k(REF_W - PLOT_W), t=0, b=k(REF_H - PLOT_H)),
    paper_bgcolor=BG, plot_bgcolor=BG,
    showlegend=False, barmode="overlay", boxgap=0.48,
    shapes=shapes, annotations=ann,
    font=dict(family=FONT),
)

fig.write_html("out.html", config={"displayModeBar": False},
               post_script="document.body.style.margin='0';")
